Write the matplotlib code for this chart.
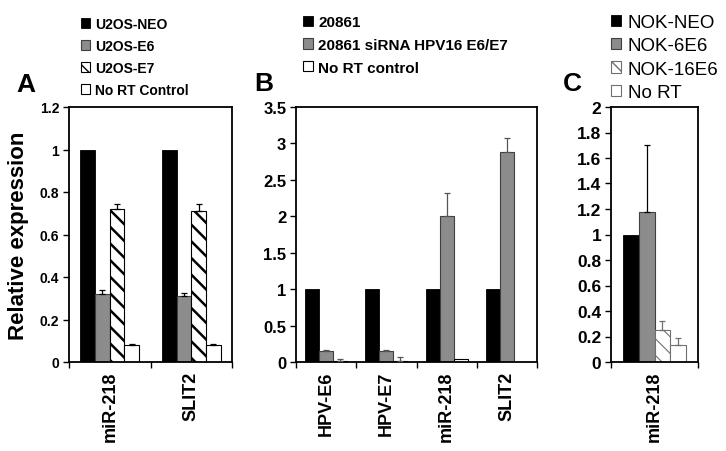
import numpy as np
import matplotlib
matplotlib.use('Agg')
import matplotlib.pyplot as plt
from matplotlib.patches import Patch
from matplotlib.ticker import FuncFormatter

plt.rcParams['font.family'] = ['Liberation Sans', 'DejaVu Sans']
plt.rcParams['font.weight'] = 'bold'
plt.rcParams['axes.linewidth'] = 1.3

# panel A - U2OS cells
a_genes = ['miR-218', 'SLIT2']
a_series = ['U2OS-NEO', 'U2OS-E6', 'U2OS-E7', 'No RT Control']
a_neo = [1.0, 1.0]
a_e6 = [0.32, 0.31]
a_e7 = [0.72, 0.71]
a_nort = [0.08, 0.08]
a_e6_err = [0.02, 0.015]
a_e7_err = [0.025, 0.035]
a_nort_err = [0.003, 0.003]

# panel B - 20861 cells
b_genes = ['HPV-E6', 'HPV-E7', 'miR-218', 'SLIT2']
b_series = ['20861', '20861 siRNA HPV16 E6/E7', 'No RT control']
b_ctrl = [1.0, 1.0, 1.0, 1.0]
b_sirna = [0.15, 0.15, 2.0, 2.88]
b_nort = [0.01, 0.02, 0.04, 0.0]
b_sirna_err = [0.015, 0.01, 0.32, 0.2]
b_nort_err = [0.03, 0.055, 0.0, 0.0]

# panel C - NOK cells
c_genes = ['miR-218']
c_series = ['NOK-NEO', 'NOK-6E6', 'NOK-16E6', 'No RT']
c_neo = [1.0]
c_6e6 = [1.18]
c_16e6 = [0.25]
c_nort = [0.13]
c_6e6_err = [0.52]
c_16e6_err = [0.07]
c_nort_err = [0.06]

black = dict(facecolor='black', edgecolor='black', linewidth=0.6)
gray = dict(facecolor='#8c8c8c', edgecolor='#404040', linewidth=0.8)
hatched = dict(facecolor='white', edgecolor='black', linewidth=0.8, hatch='\\\\')
white = dict(facecolor='white', edgecolor='black', linewidth=0.8)
c_hatched = dict(facecolor='white', edgecolor='#707070', linewidth=0.8, hatch='\\\\')
c_white = dict(facecolor='white', edgecolor='#707070', linewidth=0.8)

fig = plt.figure(figsize=(7.26, 4.52), dpi=100)
W, H = 726.0, 452.0


def panel(left, right, genes, values, errs, styles, width, ymax, ystep,
          tick_size, ecolors, hatch_lw):
    ax = fig.add_axes([left / W, 1 - 363 / H, (right - left) / W, 255 / H])
    x = np.arange(len(genes))
    n = len(values)
    for i in range(n):
        pos = x + (i - (n - 1) / 2) * width
        bars = ax.bar(pos, values[i], width, zorder=2, **styles[i])
        for b in bars:
            if hasattr(b, 'set_hatch_linewidth'):
                b.set_hatch_linewidth(hatch_lw)
        if errs[i] is not None:
            e = np.array(errs[i])
            m = e > 0
            v = np.array(values[i])
            ax.errorbar(pos[m], v[m], yerr=[np.zeros(m.sum()), e[m]], fmt='none',
                        ecolor=ecolors[i], elinewidth=0.9, capsize=2.5,
                        capthick=0.9, zorder=3)
    ax.set_xlim(-0.5, len(genes) - 0.5)
    ax.set_ylim(0, ymax)
    ax.set_yticks(np.arange(0, ymax + ystep / 2, ystep))
    ax.yaxis.set_major_formatter(FuncFormatter(lambda v, p: '%g' % round(v, 2)))
    ax.set_xticks(x)
    ax.set_xticklabels(genes, rotation=90, fontsize=13, fontweight='bold')
    ax.set_xticks(np.arange(len(genes) + 1) - 0.5, minor=True)
    ax.tick_params(axis='x', which='major', length=0, pad=6)
    ax.tick_params(axis='x', which='minor', length=4, width=1)
    ax.tick_params(axis='y', length=4, width=1, labelsize=tick_size, pad=3)
    return ax


axA = panel(69, 232, a_genes, [a_neo, a_e6, a_e7, a_nort],
            [None, a_e6_err, a_e7_err, a_nort_err],
            [black, gray, hatched, white], 0.18, 1.2, 0.2, 10,
            ['black'] * 4, 1.8)
axA.set_ylabel('Relative expression', fontsize=16, fontweight='bold', labelpad=8)

axB = panel(296, 537, b_genes, [b_ctrl, b_sirna, b_nort],
            [None, b_sirna_err, b_nort_err],
            [black, gray, white], 0.233, 3.5, 0.5, 12,
            ['black', '#555555', '#555555'], 1.6)

axC = panel(611, 698, c_genes, [c_neo, c_6e6, c_16e6, c_nort],
            [None, c_6e6_err, c_16e6_err, c_nort_err],
            [black, gray, c_hatched, c_white], 0.18, 2.0, 0.2, 12.5,
            ['black', 'black', '#707070', '#707070'], 0.8)


def legend(ax, series, styles, x, y, size, weight, spacing, hsize):
    handles = [Patch(label=s, **st) for s, st in zip(series, styles)]
    leg = ax.legend(handles=handles, loc='upper left', bbox_to_anchor=(x / W, 1 - y / H),
                    bbox_transform=fig.transFigure, frameon=False, borderpad=0,
                    borderaxespad=0, handlelength=hsize, handleheight=hsize,
                    handletextpad=0.35, labelspacing=spacing,
                    prop={'size': size, 'weight': weight})
    return leg


legend(axA, a_series, [black, gray, hatched, white], 81, 18, 10, 'bold', 0.57, 0.65)
legend(axB, b_series, [black, gray, white], 303, 16, 11, 'bold', 0.58, 0.65)
legend(axC, c_series, [black, gray, c_hatched, c_white], 611, 15, 13.5, 'normal', 0.34, 0.55)

fig.text(16 / W, 1 - 92 / H, 'A', fontsize=19, fontweight='bold')
fig.text(254 / W, 1 - 91 / H, 'B', fontsize=19, fontweight='bold')
fig.text(563 / W, 1 - 91 / H, 'C', fontsize=19, fontweight='bold')

fig.savefig('out.png', dpi=100)
